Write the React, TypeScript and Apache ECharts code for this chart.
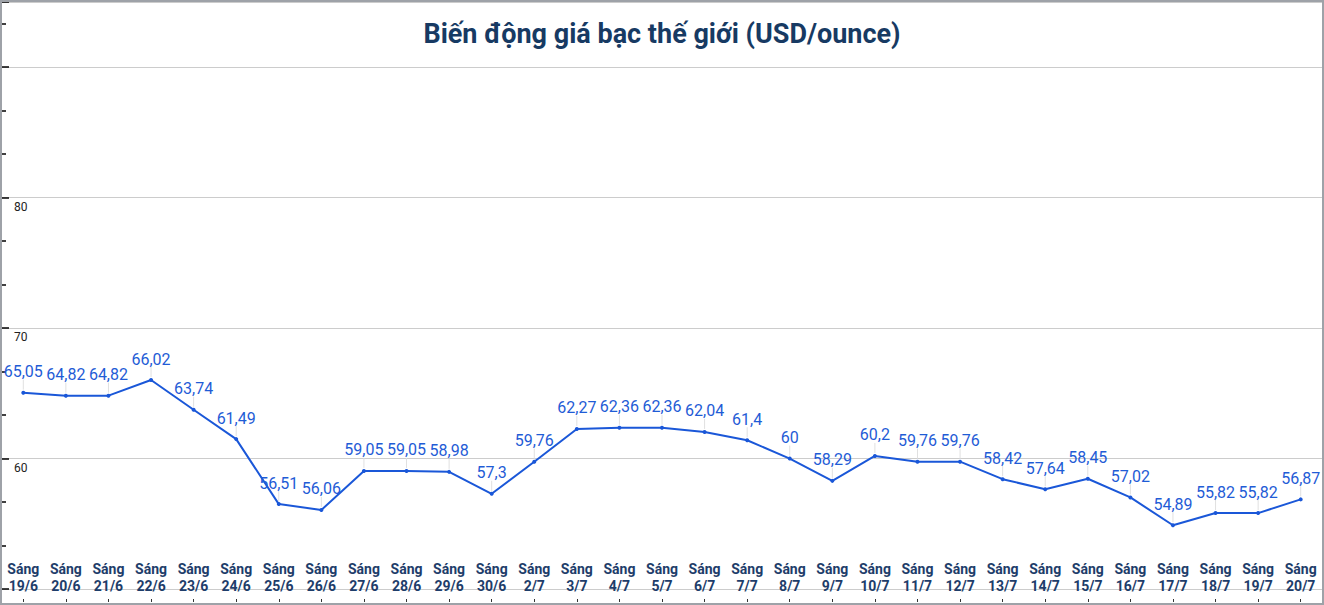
import React, { useEffect, useRef } from "react";
import * as echarts from "echarts";

const categories = [
  "19/6", "20/6", "21/6", "22/6", "23/6", "24/6", "25/6", "26/6", "27/6", "28/6",
  "29/6", "30/6", "2/7", "3/7", "4/7", "5/7", "6/7", "7/7", "8/7", "9/7",
  "10/7", "11/7", "12/7", "13/7", "14/7", "15/7", "16/7", "17/7", "18/7", "19/7", "20/7",
];

const prices = [
  65.05, 64.82, 64.82, 66.02, 63.74, 61.49, 56.51, 56.06, 59.05, 59.05,
  58.98, 57.3, 59.76, 62.27, 62.36, 62.36, 62.04, 61.4, 60, 58.29,
  60.2, 59.76, 59.76, 58.42, 57.64, 58.45, 57.02, 54.89, 55.82, 55.82, 56.87,
];

const shownYLabels = [60, 70, 80];

const TITLE = "Biến động giá bạc thế giới (USD/ounce)";
const PREFIX = "Sáng";

export default function App() {
  const ref = useRef<HTMLDivElement>(null);

  useEffect(() => {
    if (!ref.current) return;
    const chart = echarts.init(ref.current, null, { renderer: "svg" });
    const blue = "#1a57d8";
    chart.setOption({
      animation: false,
      backgroundColor: "#ffffff",
      textStyle: { fontFamily: "Roboto" },
      title: {
        text: TITLE,
        left: "center",
        top: 13,
        textStyle: {
          fontFamily: "Roboto",
          fontWeight: "bold",
          fontSize: 27,
          color: "#173a63",
        },
      },
      grid: {
        left: 0,
        right: 0,
        top: 0,
        bottom: 14,
        containLabel: false,
        outerBoundsMode: "none",
      },
      xAxis: {
        type: "category",
        data: categories,
        boundaryGap: true,
        position: "bottom",
        offset: 13,
        axisLine: { show: false },
        axisTick: {
          show: true,
          inside: true,
          alignWithLabel: true,
          length: 3,
          lineStyle: { color: "#333", width: 1 },
        },
        axisLabel: {
          inside: true,
          margin: 8,
          interval: 0,
          formatter: (v: string) => PREFIX + "\n" + v,
          fontFamily: "Roboto",
          fontWeight: "bold",
          fontSize: 14,
          lineHeight: 17,
          color: "#1e3d6a",
        },
        splitLine: { show: false },
      },
      yAxis: {
        type: "value",
        min: 50,
        max: 95,
        interval: 10,
        axisLine: { show: false },
        axisTick: {
          show: true,
          inside: true,
          length: 7,
          lineStyle: { color: "#000", width: 1.5 },
        },
        minorTick: {
          show: true,
          splitNumber: 3,
          length: 4,
          lineStyle: { color: "#000", width: 1.5 },
        },
        axisLabel: {
          inside: true,
          margin: 12,
          align: "left",
          verticalAlign: "top",
          padding: [3, 0, 0, 0],
          fontFamily: "Roboto",
          fontSize: 12,
          color: "#222",
          showMaxLabel: false,
          formatter: (v: number) => (shownYLabels.indexOf(v) >= 0 ? String(v) : ""),
        },
        splitLine: { show: true, lineStyle: { color: "#cccccc", width: 1 } },
      },
      series: [
        {
          type: "custom",
          data: prices.map((v, i) => [i, v]),
          silent: true,
          z: 1,
          renderItem: (params: any, api: any) => {
            const p = api.coord([api.value(0), api.value(1)]);
            return {
              type: "line",
              shape: { x1: p[0], y1: p[1] - 3, x2: p[0], y2: p[1] - 13 },
              style: { stroke: "#e0e0e0", lineWidth: 1 },
            };
          },
        },
        {
          type: "line",
          data: prices,
          z: 3,
          symbol: "circle",
          symbolSize: 4,
          lineStyle: { color: blue, width: 2 },
          itemStyle: { color: blue },
          label: {
            show: true,
            position: "top",
            distance: 11,
            fontFamily: "Roboto",
            fontSize: 16,
            color: "#1f5cd6",
            formatter: (p: any) => String(p.value).replace(".", ","),
          },
        },
      ],
    });
    return () => chart.dispose();
  }, []);

  return (
    <div
      style={{
        position: "fixed",
        left: 0,
        top: 0,
        width: 1324,
        height: 605,
        boxSizing: "border-box",
        border: "2px solid #9ea2a8",
        background: "#fff",
      }}
    >
      <div ref={ref} style={{ width: 1320, height: 601 }} />
    </div>
  );
}
